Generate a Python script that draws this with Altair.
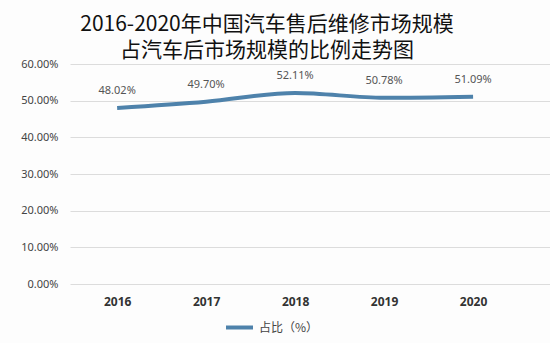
import altair as alt
import pandas as pd

years = ["2016", "2017", "2018", "2019", "2020"]
share = [0.4802, 0.4970, 0.5211, 0.5078, 0.5109]
series_name = "占比（%）"

df = pd.DataFrame({"year": years, "share": share, "series": [series_name] * len(years)})

x = alt.X("year:N", title=None, sort=years,
          scale=alt.Scale(type="point", padding=0.697, align=0.38),
          axis=alt.Axis(labelAngle=0, labelFontWeight="bold", labelFontSize=12,
                        labelColor="#333333", labelFont="Noto Sans", domain=False,
                        ticks=False, labelPadding=12, grid=False))
y = alt.Y("share:Q", title=None,
          scale=alt.Scale(domain=[0, 0.6], nice=False),
          axis=alt.Axis(format=".2%", values=[0, 0.1, 0.2, 0.3, 0.4, 0.5, 0.6],
                        labelFontSize=11, labelColor="#444444", labelFont="Noto Sans",
                        domain=False, ticks=False, labelPadding=12,
                        gridColor="#dcdcdc", gridWidth=1))

line = alt.Chart(df).mark_line(strokeWidth=4, interpolate="monotone").encode(
    x=x, y=y,
    color=alt.Color("series:N", title=None,
                    scale=alt.Scale(range=["#4e82ab"]),
                    legend=alt.Legend(orient="none", legendX=154, legendY=248,
                                      direction="horizontal", symbolType="stroke",
                                      symbolStrokeWidth=4, symbolSize=729,
                                      labelFontSize=12, labelColor="#444444",
                                      labelFont="Noto Sans CJK SC")),
)

labels = alt.Chart(df).mark_text(dy=-17, fontSize=11, color="#555555", font="Noto Sans").encode(
    x=x, y=y, text=alt.Text("share:Q", format=".2%"),
)

chart = alt.layer(line, labels).properties(
    width=480, height=220,
    autosize=alt.AutoSizeParams(type="none"),
    padding={"left": 70, "top": 64, "right": 0, "bottom": 59},
    background="#fdfdfd",
    title=alt.TitleParams(
        text=["2016-2020年中国汽车售后维修市场规模", "占汽车后市场规模的比例走势图"],
        font="Noto Sans CJK SC", fontSize=21, fontWeight="normal", color="#111111",
        lineHeight=26, anchor="middle", dx=-43, dy=7, offset=4,
    ),
).configure_view(stroke=None)

chart.save("out.html", embed_options={"renderer": "svg", "actions": False})
